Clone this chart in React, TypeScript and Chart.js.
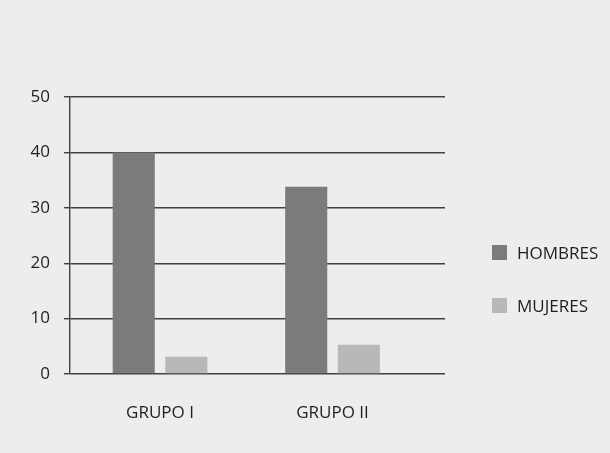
import React, { useEffect, useRef } from 'react';
import { Chart, registerables } from 'chart.js';

Chart.register(...registerables);

const categories = ['GRUPO I', 'GRUPO II'];
const seriesNames = ['HOMBRES', 'MUJERES'];
const hombres = [40, 33.8];
const mujeres = [3.1, 5.3];
const yTicks = [0, 10, 20, 30, 40, 50];
const seriesColors = ['#7b7b7b', '#b8b8b8'];

const FONT = "'Open Sans', 'Noto Sans', sans-serif";
const TEXT = '#1f1f1f';
const LINE = '#404040';

export default function App() {
  const ref = useRef<HTMLCanvasElement | null>(null);

  useEffect(() => {
    document.body.style.margin = '0';
    const ctx = ref.current;
    if (!ctx) return;
    const series = [hombres, mujeres];
    const chart = new Chart(ctx, {
      type: 'bar',
      data: {
        datasets: series.map((vals, si) => ({
          label: seriesNames[si],
          data: vals.map((y, i) => ({ x: i, y })),
          backgroundColor: seriesColors[si],
          borderWidth: 0,
          barPercentage: 0.8,
          categoryPercentage: 0.61,
        })),
      },
      options: {
        animation: false,
        responsive: false,
        layout: { padding: { top: 97, right: 165, left: 0, bottom: 0 } },
        plugins: { legend: { display: false }, tooltip: { enabled: false } },
        scales: {
          x: {
            type: 'linear',
            offset: false,
            min: -0.522,
            max: 1.652,
            afterBuildTicks: (s: any) => {
              s.ticks = categories.map((_, i) => ({ value: i }));
            },
            afterFit: (s: any) => {
              s.height = 79;
            },
            grid: { display: false, drawTicks: false, offset: false },
            border: { display: false },
            ticks: {
              padding: 29,
              autoSkip: false,
              maxRotation: 0,
              color: TEXT,
              font: { family: FONT, size: 17 },
              callback: (v: any) => categories[v as number] ?? '',
            },
          },
          y: {
            min: 0,
            max: 50,
            afterBuildTicks: (s: any) => {
              s.ticks = yTicks.map((v) => ({ value: v }));
            },
            afterFit: (s: any) => {
              s.width = 70;
            },
            grid: { color: LINE, lineWidth: 1.4, tickLength: 6, drawTicks: true },
            border: { display: true, color: LINE, width: 1.4 },
            ticks: {
              padding: 14,
              color: TEXT,
              font: { family: FONT, size: 17 },
            },
          },
        },
      },
    } as any);
    return () => chart.destroy();
  }, []);

  const legendTops = [252, 305.5];

  return (
    <div style={{ position: 'fixed', left: 0, top: 0, width: 610, height: 453, background: '#ededed', overflow: 'hidden' }}>
      <canvas ref={ref} width={610} height={453} style={{ position: 'absolute', left: 0, top: 0, width: 610, height: 453 }} />
      {seriesNames.map((name, i) => (
        <div key={name} style={{ position: 'absolute', left: 492, top: legendTops[i] - 12, height: 24, display: 'flex', alignItems: 'center', fontFamily: FONT, fontSize: 17, color: TEXT }}>
          <span style={{ display: 'inline-block', width: 15, height: 15, background: seriesColors[i], marginRight: 10 }} />
          <span>{name}</span>
        </div>
      ))}
    </div>
  );
}
